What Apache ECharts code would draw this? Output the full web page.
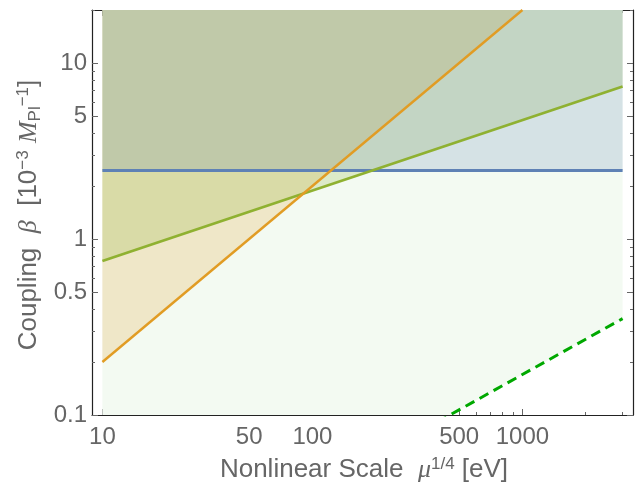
<!DOCTYPE html>
<html><head><meta charset="utf-8">
<script src="https://cdn.jsdelivr.net/npm/echarts@6/dist/echarts.min.js"></script>
<style>html,body{margin:0;padding:0;background:#fff}#c{width:636px;height:494px}</style>
</head><body><div id="c"></div>
<script>
// ---- data ----
const xDomain = [10, 3000];
const yDomain = [0.1, 20];
const xTickLabels = [10, 50, 100, 500, 1000];
const xMinorTicks = [20, 30, 40, 60, 70, 80, 90, 200, 300, 400, 600, 700, 800, 900, 2000, 3000];
const yTickLabels = [0.1, 0.5, 1, 5, 10];
const yMinorTicks = [0.2, 0.3, 0.4, 0.6, 0.7, 0.8, 0.9, 2, 3, 4, 6, 7, 8, 9, 20];

const orangeX = [10, 1000];   const orangeY = [0.2, 20];
const greenX  = [10, 3000];   const greenY  = [0.75, 7.35];
const blueX   = [10, 3000];   const blueY   = [2.45, 2.45];
const dashX   = [10, 3000];   const dashY   = [0.0079, 0.353];

// ---- build ----
const zip = (a, b) => a.map((v, i) => [v, b[i]]);
const pad = Math.pow(10, 0.0495);
const xMin = xDomain[0] / pad, xMax = xDomain[1] * pad;
const font = 'Liberation Sans, Arial, sans-serif';
const labelColor = '#666';
const frame = '#222';
const fmt = v => String(+(+v).toPrecision(3));

function xAx(pos, vals, len, labels, line) {
  return {
    type: 'log', logBase: 10, position: pos, min: xMin, max: xMax,
    axisLine: { show: line, onZero: false, lineStyle: { color: frame, width: 1.2 } },
    axisTick: { show: true, inside: true, length: len, customValues: vals, lineStyle: { color: '#666', width: 1 } },
    axisLabel: labels ? { show: true, customValues: vals, formatter: fmt, color: labelColor, fontSize: 24, fontFamily: font, margin: 10 } : { show: false },
    minorTick: { show: false }, splitLine: { show: false }
  };
}
function yAx(pos, vals, len, labels, line) {
  return {
    type: 'log', logBase: 10, position: pos, min: yDomain[0], max: yDomain[1],
    axisLine: { show: line, onZero: false, lineStyle: { color: frame, width: 1.2 } },
    axisTick: { show: true, inside: true, length: len, customValues: vals, lineStyle: { color: '#666', width: 1 } },
    axisLabel: labels ? { show: true, customValues: vals, formatter: fmt, color: labelColor, fontSize: 24, fontFamily: font, margin: 5 } : { show: false },
    minorTick: { show: false }, splitLine: { show: false }
  };
}

function fill(xs, ys, color, z) {
  return { type: 'line', data: zip(xs, ys), showSymbol: false, silent: true, clip: true, z: z,
    lineStyle: { width: 0, opacity: 0 }, areaStyle: { origin: 'end', color: color, opacity: 1 } };
}
function line(xs, ys, color, width, type, z) {
  return { type: 'line', data: zip(xs, ys), showSymbol: false, silent: true, clip: true, z: z,
    lineStyle: { width: width, color: color, type: type || 'solid', cap: 'butt' } };
}

const chart = echarts.init(document.getElementById('c'), null, { renderer: 'canvas' });
chart.setOption({
  animation: false,
  backgroundColor: '#fff',
  grid: { left: 92, right: 3, top: 10, bottom: 79, containLabel: false },
  xAxis: [
    xAx('bottom', xTickLabels, 6, true, true),
    xAx('bottom', xMinorTicks, 3, false, false),
    xAx('top', xTickLabels, 6, false, true),
    xAx('top', xMinorTicks, 3, false, false)
  ],
  yAxis: [
    yAx('left', yTickLabels, 6, true, true),
    yAx('left', yMinorTicks, 3, false, false),
    yAx('right', yTickLabels, 6, false, true),
    yAx('right', yMinorTicks, 3, false, false)
  ],
  series: [
    fill(dashX, dashY, 'rgb(243,250,242)', 1),
    fill(orangeX, orangeY, 'rgba(225,156,36,0.2)', 2),
    fill(greenX, greenY, 'rgba(143,177,49,0.22)', 2),
    fill(blueX, blueY, 'rgba(94,129,181,0.2)', 2),
    line(dashX, dashY, '#00a800', 3, [10, 6], 5),
    line(blueX, blueY, '#5e81b5', 3, 'solid', 5),
    line(greenX, greenY, '#8fb131', 2.8, 'solid', 6),
    line(orangeX, orangeY, '#e19c24', 2.4, 'solid', 7)
  ],
  graphic: [
    { type: 'text', x: 364, y: 470, z: 100,
      style: { text: 'Nonlinear Scale  {i|μ}{sup|1/4} [eV]', fill: labelColor, font: '26px ' + font,
        align: 'center', verticalAlign: 'middle',
        rich: { i: { fontStyle: 'italic', fontSize: 26, fontFamily: 'Liberation Serif, serif', fill: labelColor },
                sup: { fontSize: 17, fill: labelColor, verticalAlign: 'top', padding: [0, 0, 12, 0] } } } },
    { type: 'text', x: 29, y: 215, rotation: Math.PI / 2, z: 100,
      style: { text: 'Coupling  {i|β}  [10{sup|−3} {i|M}{sub|Pl}{sup|−1}]', fill: labelColor, font: '26px ' + font,
        align: 'center', verticalAlign: 'middle',
        rich: { i: { fontStyle: 'italic', fontSize: 26, fontFamily: 'Liberation Serif, serif', fill: labelColor },
                sup: { fontSize: 17, fill: labelColor, verticalAlign: 'top', padding: [0, 0, 12, 0] },
                sub: { fontSize: 17, fill: labelColor, verticalAlign: 'bottom', padding: [9, 0, 0, 0] } } } }
  ]
});
</script></body></html>
